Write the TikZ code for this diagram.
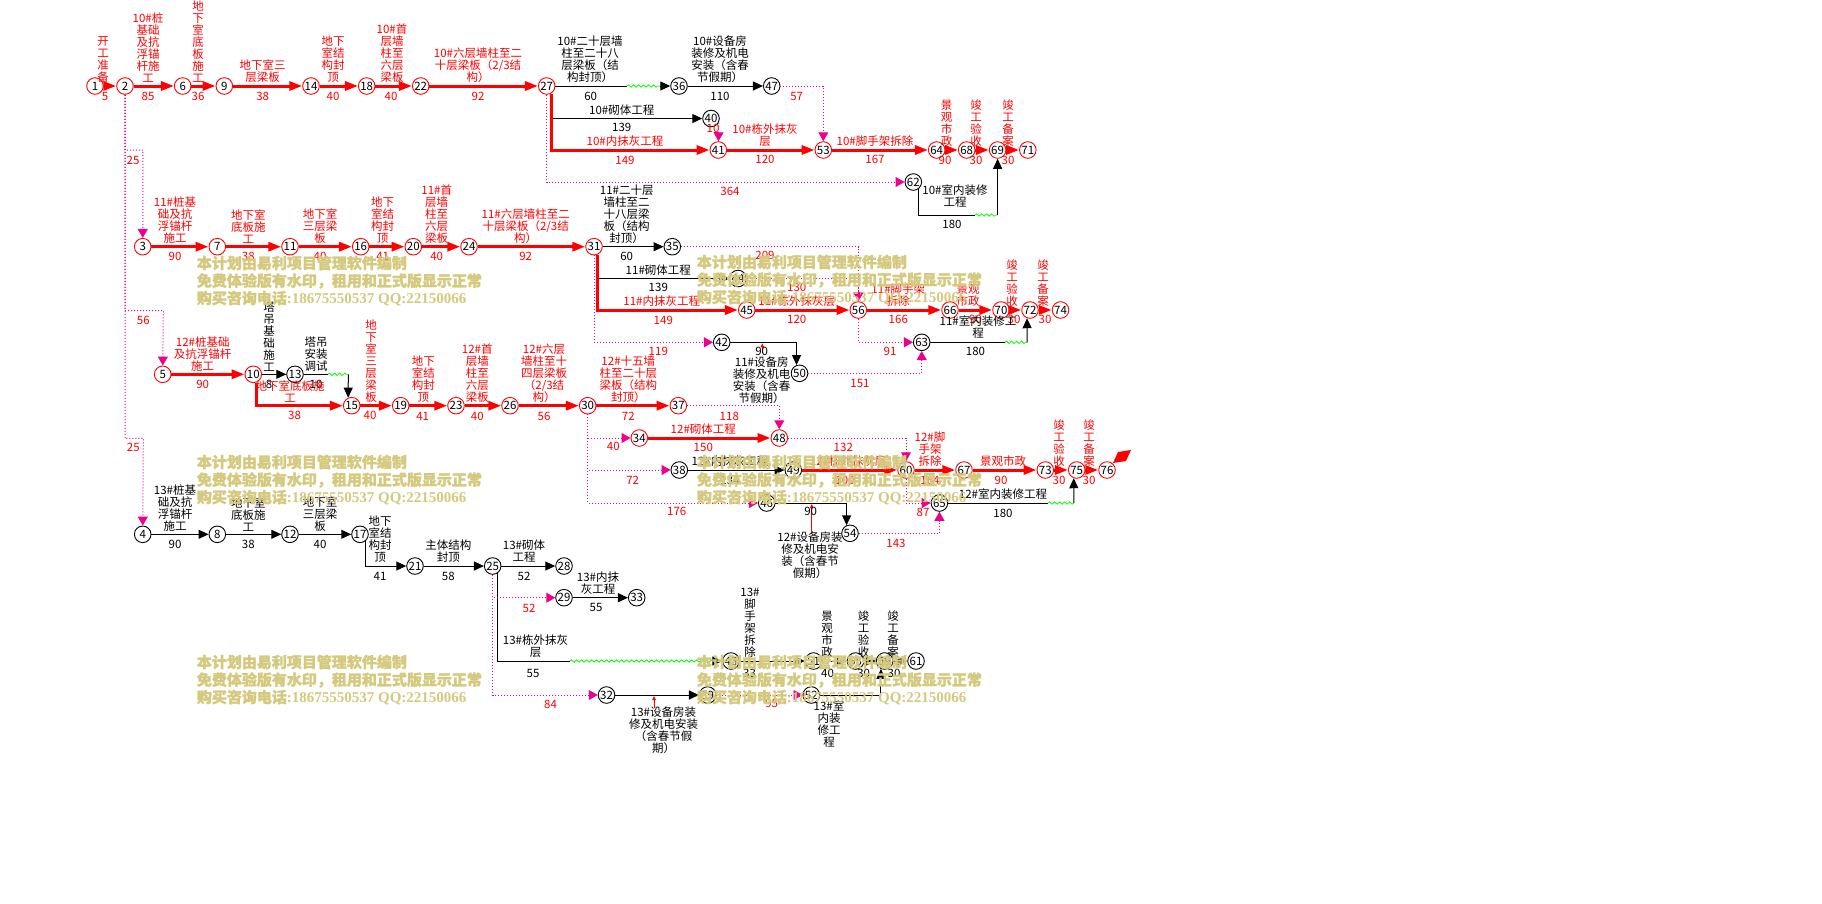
\documentclass[tikz,border=0pt]{standalone}
\usepackage{fontspec}
\setmainfont{Noto Sans CJK SC}
\newfontfamily\mywmfam{Noto Sans CJK SC}[FakeBold=1.3]
\newfontfamily\mywmlat{Liberation Serif}
\usetikzlibrary{arrows.meta,decorations.pathmorphing}
\definecolor{wmc}{RGB}{212,201,125}
\newcommand\mylbf{\fontsize{11.5}{12}\selectfont}
\newcommand\mywmfont{\mywmfam\bfseries\fontsize{15}{18}\selectfont}
\newcommand\wmblock[3]{%
 \node[wm] (#1a) at (#2,#3) {本计划由易利项目管理软件编制};
 \node[wm] (#1b) at (#2,#3+18) {免费体验版有水印，租用和正式版显示正常};
 \node[wm] (#1c) at (#2,#3+35.5) {购买咨询电话{\mywmlat\bfseries :18675550537 QQ:22150066}};}
\begin{document}
\begin{tikzpicture}[x=1pt,y=-1pt,
 nd/.style={circle,draw=black,fill=white,line width=0.9pt,minimum size=16.6pt,inner sep=0pt,font=\mylbf},
 ndr/.style={nd,draw=red},
 crit/.style={draw=red,line width=3pt,-{Triangle[length=13pt,width=9pt]}},
 act/.style={draw=black,line width=1pt,-{Triangle[length=10pt,width=9pt]}},
 ln/.style={draw=black,line width=1pt},
 wave/.style={draw=green,line width=0.8pt,decorate,decoration={snake,segment length=5pt,amplitude=1.2pt}},
 dep/.style={draw=magenta,line width=1pt,dash pattern=on 1pt off 2pt,-{Triangle[length=9pt,width=10pt]}},
 lr/.style={font=\mylbf,align=center,inner sep=0pt,text=red,anchor=south},
 lb/.style={lr,text=black},
 dr/.style={font=\mylbf,inner sep=0pt,text=red},
 db/.style={dr,text=black},
 rtick/.style={draw=red,line width=0.8pt,-{Triangle[length=4pt,width=3.5pt]}},
 wm/.style={font=\mywmfont,text=wmc,anchor=west,inner sep=0pt}
]
\fill[white] (0,0) rectangle (1822,903);
\useasboundingbox (0,0) rectangle (1822,903);

% ---------- nodes row 10
\node[ndr] (n1) at (95,86) {1};
\node[ndr] (n2) at (125,86) {2};
\node[ndr] (n6) at (182.7,86) {6};
\node[ndr] (n9) at (224.3,86) {9};
\node[ndr] (n14) at (311,86) {14};
\node[ndr] (n18) at (366.7,86) {18};
\node[ndr] (n22) at (420.7,86) {22};
\node[ndr] (n27) at (546.7,86) {27};
\node[nd] (n36) at (679,86) {36};
\node[nd] (n47) at (771.7,86) {47};
\node[nd] (n40) at (711,118.5) {40};
\node[ndr] (n41) at (718.3,150) {41};
\node[ndr] (n53) at (823.3,150) {53};
\node[ndr] (n64) at (936.7,150) {64};
\node[ndr] (n68) at (966.7,150) {68};
\node[ndr] (n69) at (997.6,150) {69};
\node[ndr] (n71) at (1027.8,150) {71};
\node[nd] (n62) at (913.3,182) {62};
% ---------- row 11
\node[ndr] (n3) at (142.7,246.7) {3};
\node[ndr] (n7) at (217.3,246.7) {7};
\node[ndr] (n11) at (290,246.7) {11};
\node[ndr] (n16) at (360.7,246.7) {16};
\node[ndr] (n20) at (413.3,246.7) {20};
\node[ndr] (n24) at (469,246.7) {24};
\node[ndr] (n31) at (594,246.7) {31};
\node[nd] (n35) at (672.3,246.7) {35};
\node[nd] (n44) at (738,278.5) {44};
\node[ndr] (n45) at (746.7,310) {45};
\node[ndr] (n56) at (858.3,310) {56};
\node[ndr] (n66) at (950,310) {66};
\node[ndr] (n70) at (1001,310) {70};
\node[ndr] (n72) at (1030,310) {72};
\node[ndr] (n74) at (1060.5,310) {74};
\node[nd] (n42) at (721.7,342.3) {42};
\node[nd] (n63) at (921.7,342.3) {63};
\node[nd] (n50) at (799.5,373.3) {50};
% ---------- row 12
\node[ndr] (n5) at (162.7,374.3) {5};
\node[ndr] (n10) at (253.3,374.3) {10};
\node[nd] (n13) at (295,374.3) {13};
\node[ndr] (n15) at (351.7,405.7) {15};
\node[ndr] (n19) at (400.7,405.7) {19};
\node[ndr] (n23) at (456,405.7) {23};
\node[ndr] (n26) at (510,405.7) {26};
\node[ndr] (n30) at (587.7,405.7) {30};
\node[ndr] (n37) at (678.3,405.7) {37};
\node[ndr] (n34) at (639.3,438) {34};
\node[ndr] (n48) at (779.3,438) {48};
\node[nd] (n38) at (679.3,470) {38};
\node[nd] (n49) at (793.3,470) {49};
\node[ndr] (n60) at (906,470) {60};
\node[ndr] (n67) at (964,470) {67};
\node[ndr] (n73) at (1045.3,470) {73};
\node[ndr] (n75) at (1076.7,470) {75};
\node[ndr] (n76) at (1107,470) {76};
\node[nd] (n46) at (766.7,503) {46};
\node[nd] (n65) at (939.4,503) {65};
\node[nd] (n54) at (850,533.3) {54};
% ---------- row 13
\node[nd] (n4) at (142.7,534.3) {4};
\node[nd] (n8) at (217.3,534.3) {8};
\node[nd] (n12) at (290,534.3) {12};
\node[nd] (n17) at (360,534.3) {17};
\node[nd] (n21) at (415,566) {21};
\node[nd] (n25) at (492.7,566) {25};
\node[nd] (n28) at (564,566) {28};
\node[nd] (n29) at (564,597.7) {29};
\node[nd] (n33) at (636.7,597.7) {33};
\node[nd] (n43) at (731,661) {43};
\node[nd] (n51) at (813.6,661) {51};
\node[nd] (n55) at (855.5,661) {55};
\node[nd] (n59) at (884.6,661) {59};
\node[nd] (n61) at (916,661) {61};
\node[nd] (n32) at (606.5,695) {32};
\node[nd] (n39) at (707.7,695) {39};
\node[nd] (n52) at (811.3,695) {52};

% ---------- edges row 10
\draw[crit] (n1) -- (n2);
\draw[crit] (n2) -- (n6);
\draw[crit] (n6) -- (n9);
\draw[crit] (n9) -- (n14);
\draw[crit] (n14) -- (n18);
\draw[crit] (n18) -- (n22);
\draw[crit] (n22) -- (n27);
\draw[crit] (n27.-60) |- (n41);
\draw[crit] (n41) -- (n53);
\draw[crit] (n53) -- (n64);
\draw[crit] (n64) -- (n68);
\draw[crit] (n68) -- (n69);
\draw[crit] (n69) -- (n71);
\coordinate (w27a) at (627,86);
\coordinate (w27b) at (660,86);
\draw[ln] (n27) -- (w27a);
\draw[wave] (w27a) -- (w27b);
\draw[act] (w27b) -- (n36);
\draw[act] (n36) -- (n47);
\coordinate (c27a) at (553,118.5);
\draw[act] (c27a) -- (n40);
\coordinate (w62a) at (975,215);
\coordinate (w62b) at (997.6,215);
\draw[ln] (n62.-55) |- (w62a);
\draw[wave] (w62a) -- (w62b);
\draw[act] (w62b) -- (n69);
\draw[dep] (n47) -| (n53);
\draw[dep] (n40.-28) -- (n41);
\draw[dep] (n27) |- (n62);
\draw[dep] (n2) |- (143,150) -- (n3);
\draw[dep] (n2) |- (163.3,310.7) -- (n5);
\draw[dep] (n2) |- (143.3,438.3) -- (n4);

% ---------- edges row 11
\draw[crit] (n3) -- (n7);
\draw[crit] (n7) -- (n11);
\draw[crit] (n11) -- (n16);
\draw[crit] (n16) -- (n20);
\draw[crit] (n20) -- (n24);
\draw[crit] (n24) -- (n31);
\draw[crit] (n31.-65) |- (n45);
\draw[crit] (n45) -- (n56);
\draw[crit] (n56) -- (n66);
\draw[crit] (n66) -- (n70);
\draw[crit] (n70) -- (n72);
\draw[crit] (n72) -- (n74);
\draw[act] (n31) -- (n35);
\coordinate (c31a) at (599,278.5);
\draw[act] (c31a) -- (n44);
\draw[act] (n42) -| (n50.110);
\coordinate (w63a) at (1005,342.3);
\coordinate (w63b) at (1027.2,342.3);
\draw[ln] (n63) -- (w63a);
\draw[wave] (w63a) -- (w63b);
\draw[act] (w63b) -- (n72.-110);
\draw[dep] (n35) -| (n56);
\draw[dep] (n44) -| (n56);
\draw[dep] (n31) |- (n42);
\draw[dep] (n56) |- (n63);
\draw[dep] (n50) -| (n63);
\draw[rtick] (762.3,352.5) -- (762.3,343.3);

% ---------- edges row 12
\draw[crit] (n5) -- (n10);
\draw[crit] (n10.-70) |- (n15);
\draw[crit] (n15) -- (n19);
\draw[crit] (n19) -- (n23);
\draw[crit] (n23) -- (n26);
\draw[crit] (n26) -- (n30);
\draw[crit] (n30) -- (n37);
\draw[crit] (n34) -- (n48);
\draw[crit] (n49) -- (n60);
\draw[crit] (n60) -- (n67);
\draw[crit] (n67) -- (n73);
\draw[crit] (n73) -- (n75);
\draw[crit] (n75) -- (n76);
\draw[act] (n10) -- (n13);
\coordinate (w13a) at (328,374.3);
\coordinate (w13b) at (348.3,374.3);
\draw[ln] (n13) -- (w13a);
\draw[wave] (w13a) -- (w13b);
\draw[act] (w13b) -- (n15.114);
\draw[act] (n38) -- (n49);
\draw[act] (n46) -| (n54.113);
\coordinate (w65a) at (1048,503);
\coordinate (w65b) at (1073.9,503);
\draw[ln] (n65) -- (w65a);
\draw[wave] (w65a) -- (w65b);
\draw[act] (w65b) -- (n75.-110);
\draw[dep] (n30) |- (n34);
\draw[dep] (n30) |- (n38);
\draw[dep] (n30) |- (n46);
\draw[dep] (n37) -| (n48);
\draw[dep] (n48) -| (n60);
\draw[dep] (n60) |- (n65);
\draw[dep] (n54) -| (n65);
\draw[rtick] (811.7,531.5) -- (811.7,504);
\fill[red] (1113,463) -- (1118,452) -- (1131,450) -- (1126,461) -- cycle;

% ---------- edges row 13
\draw[act] (n4) -- (n8);
\draw[act] (n8) -- (n12);
\draw[act] (n12) -- (n17);
\draw[act] (n17.-55) |- (n21);
\draw[act] (n21) -- (n25);
\draw[act] (n25) -- (n28);
\draw[act] (n29) -- (n33);
\coordinate (w25a) at (570,661);
\coordinate (w25b) at (716,661);
\draw[ln] (n25.-56) |- (w25a);
\draw[wave] (w25a) -- (w25b);
\draw[act] (w25b) -- (n43);
\draw[act] (n43) -- (n51);
\draw[act] (n51) -- (n55);
\draw[act] (n55) -- (n59);
\draw[act] (n59) -- (n61);
\draw[act] (n32) -- (n39);
\draw[act] (n52) -| (n59.-115);
\draw[dep] (n25) |- (n29);
\draw[dep] (n25) |- (n32);
\draw[dep] (n39) -- (n52);
\draw[rtick] (654,708) -- (654,696);

% ---------- labels row 10
\node[lr] (l1) at (103,83) {开\\工\\准\\备};
\node[dr] (d1) at (105,96.5) {5};
\node[lr] (l2) at (148,83) {10\#桩\\基础\\及抗\\浮锚\\杆施\\工};
\node[dr] (d2) at (148,96.5) {85};
\node[lr] (l3) at (198,83) {地\\下\\室\\底\\板\\施\\工};
\node[dr] (d3) at (198,96.5) {36};
\node[lr] (l4) at (262.7,83) {地下室三\\层梁板};
\node[dr] (d4) at (262.7,96.5) {38};
\node[lr] (l5) at (333,83) {地下\\室结\\构封\\顶};
\node[dr] (d5) at (333,96.5) {40};
\node[lr] (l6) at (392,83) {10\#首\\层墙\\柱至\\六层\\梁板};
\node[dr] (d6) at (391,96.5) {40};
\node[lr] (l7) at (478,83) {10\#六层墙柱至二\\十层梁板（2/3结\\构）};
\node[dr] (d7) at (478,96.5) {92};
\node[lb] (l8) at (590,83) {10\#二十层墙\\柱至二十八\\层梁板（结\\构封顶）};
\node[db] (d8) at (590.7,96.5) {60};
\node[lb] (l9) at (720,83) {10\#设备房\\装修及机电\\安装（含春\\节假期）};
\node[db] (d9) at (720,96.5) {110};
\node[lb] (l10) at (621.7,115.5) {10\#砌体工程};
\node[db] (d10) at (621.7,127.7) {139};
\node[lr] (l11) at (625,147) {10\#内抹灰工程};
\node[dr] (d11) at (625,160) {149};
\node[lr] (l12) at (765,147) {10\#栋外抹灰\\层};
\node[dr] (d12) at (765,159.5) {120};
\node[lr] (l13) at (875,147) {10\#脚手架拆除};
\node[dr] (d13) at (875,159.5) {167};
\node[lr] (l14) at (946.7,147) {景\\观\\市\\政};
\node[dr] (d14) at (945,160) {90};
\node[lr] (l15) at (976,147) {竣\\工\\验\\收};
\node[dr] (d15) at (976,160) {30};
\node[lr] (l16) at (1008,147) {竣\\工\\备\\案};
\node[dr] (d16) at (1008,160) {30};
\node[lb] (l17) at (955,208) {10\#室内装修\\工程};
\node[db] (d17) at (952,224) {180};
\node[dr] (t1) at (796.7,96) {57};
\node[dr] (t2) at (713,128) {10};
\node[dr] (t3) at (730,191.7) {364};
\node[dr] (t4) at (133,160) {25};
\node[dr] (t5) at (143.3,320) {56};
\node[dr] (t6) at (133.3,447.7) {25};

% ---------- labels row 11
\node[lr] (l18) at (175,243.7) {11\#桩基\\础及抗\\浮锚杆\\施工};
\node[dr] (d18) at (175,256.5) {90};
\node[lr] (l19) at (248.3,243.7) {地下室\\底板施\\工};
\node[dr] (d19) at (248.3,256.5) {38};
\node[lr] (l20) at (320,243.7) {地下室\\三层梁\\板};
\node[dr] (d20) at (320,256.5) {40};
\node[lr] (l21) at (382.7,243.7) {地下\\室结\\构封\\顶};
\node[dr] (d21) at (382.7,256.5) {41};
\node[lr] (l22) at (436.7,243.7) {11\#首\\层墙\\柱至\\六层\\梁板};
\node[dr] (d22) at (436.7,256.5) {40};
\node[lr] (l23) at (525.7,243.7) {11\#六层墙柱至二\\十层梁板（2/3结\\构）};
\node[dr] (d23) at (525.7,256.5) {92};
\node[lb] (l24) at (626.7,243.7) {11\#二十层\\墙柱至二\\十八层梁\\板（结构\\封顶）};
\node[db] (d24) at (626.7,256.5) {60};
\node[lb] (l25) at (658.3,275.5) {11\#砌体工程};
\node[db] (d25) at (658.3,287.7) {139};
\node[lr] (l26) at (661.7,307) {11\#内抹灰工程};
\node[dr] (d26) at (663.3,320) {149};
\node[lr] (l27) at (796.7,307) {11\#栋外抹灰层};
\node[dr] (d27) at (796.7,319.5) {120};
\node[lr] (l28) at (898.3,307) {11\#脚手架\\拆除};
\node[dr] (d28) at (898.3,319.5) {166};
\node[lr] (l29) at (968,307) {景观\\市政};
\node[dr] (d29) at (975.5,319.5) {90};
\node[lr] (l30) at (1012,307) {竣\\工\\验\\收};
\node[dr] (d30) at (1014,319.5) {30};
\node[lr] (l31) at (1043,307) {竣\\工\\备\\案};
\node[dr] (d31) at (1045,319.5) {30};
\node[lb] (l32) at (978,339) {11\#室内装修工\\程};
\node[db] (d32) at (975.5,351.5) {180};
\node[lb,anchor=center] (l33) at (761.7,379.7) {11\#设备房\\装修及机电\\安装（含春\\节假期）};
\node[db] (d33) at (761.7,351.7) {90};
\node[dr] (t7) at (765,255) {209};
\node[dr] (t8) at (796.7,287.3) {130};
\node[dr] (t9) at (658.3,351.7) {119};
\node[dr] (t10) at (890,351.7) {91};
\node[dr] (t11) at (860,383.3) {151};

% ---------- labels row 12
\node[lr] (l34) at (202.7,371.3) {12\#桩基础\\及抗浮锚杆\\施工};
\node[dr] (d34) at (202.7,384) {90};
\node[lb] (l35) at (269,371.3) {塔\\吊\\基\\础\\施\\工};
\node[db] (d35) at (269,384) {8};
\node[lb] (l36) at (316,371.3) {塔吊\\安装\\调试};
\node[db] (d36) at (316,384) {10};
\node[lr,anchor=center] (l37) at (290,391.8) {地下室底板施\\工};
\node[dr] (d37) at (294.5,415.5) {38};
\node[lr] (l38) at (371,403) {地\\下\\室\\三\\层\\梁\\板};
\node[dr] (d38) at (370,415.5) {40};
\node[lr] (l39) at (423.3,403) {地下\\室结\\构封\\顶};
\node[dr] (d39) at (422.7,416) {41};
\node[lr] (l40) at (477.3,403) {12\#首\\层墙\\柱至\\六层\\梁板};
\node[dr] (d40) at (477.3,416) {40};
\node[lr] (l41) at (544,403) {12\#六层\\墙柱至十\\四层梁板\\（2/3结\\构）};
\node[dr] (d41) at (544,416) {56};
\node[lr] (l42) at (628.3,403) {12\#十五墙\\柱至二十层\\梁板（结构\\封顶）};
\node[dr] (d42) at (628.3,416) {72};
\node[lr] (l43) at (703.3,435) {12\#砌体工程};
\node[dr] (d43) at (703.3,447.5) {150};
\node[lb] (l44) at (730,467) {12\#内抹灰工程};
\node[db] (d44) at (730,480.5) {134};
\node[lr] (l45) at (848.3,467) {12\#栋外抹灰层};
\node[dr] (d45) at (845,480.5) {100};
\node[lr] (l46) at (930,467) {12\#脚\\手架\\拆除};
\node[dr] (d46) at (930,480.5) {164};
\node[lr] (l47) at (1003,467) {景观市政};
\node[dr] (d47) at (1001,480) {90};
\node[lr] (l48) at (1059,467) {竣\\工\\验\\收};
\node[dr] (d48) at (1059,480) {30};
\node[lr] (l49) at (1089,467) {竣\\工\\备\\案};
\node[dr] (d49) at (1089,480) {30};
\node[lb] (l50) at (1003,500) {12\#室内装修工程};
\node[db] (d50) at (1003,513) {180};
\node[lb,anchor=center] (l51) at (810,555) {12\#设备房装\\修及机电安\\装（含春节\\假期）};
\node[db] (d51) at (810.7,511.7) {90};
\node[dr] (t12) at (729.3,416) {118};
\node[dr] (t13) at (613.3,446.7) {40};
\node[dr] (t14) at (632.7,480) {72};
\node[dr] (t15) at (843.3,447.3) {132};
\node[dr] (t16) at (676.7,511.7) {176};
\node[dr] (t17) at (923,512) {87};
\node[dr] (t18) at (896,543.6) {143};

% ---------- labels row 13
\node[lb] (l52) at (175,531.3) {13\#桩基\\础及抗\\浮锚杆\\施工};
\node[db] (d52) at (175,544.3) {90};
\node[lb] (l53) at (248.3,531.3) {地下室\\底板施\\工};
\node[db] (d53) at (248.3,544.3) {38};
\node[lb] (l54) at (320,531.3) {地下室\\三层梁\\板};
\node[db] (d54) at (320,544.3) {40};
\node[lb] (l55) at (380,563) {地下\\室结\\构封\\顶};
\node[db] (d55) at (380,576) {41};
\node[lb] (l56) at (448.3,563) {主体结构\\封顶};
\node[db] (d56) at (448.3,576) {58};
\node[lb] (l57) at (524,563) {13\#砌体\\工程};
\node[db] (d57) at (524,576) {52};
\node[lb] (l58) at (598,595) {13\#内抹\\灰工程};
\node[db] (d58) at (596,607.7) {55};
\node[lb] (l59) at (535.5,658) {13\#栋外抹灰\\层};
\node[db] (d59) at (533,673) {55};
\node[lb] (l60) at (750,658) {13\#\\脚\\手\\架\\拆\\除};
\node[db] (d60) at (749.6,673) {33};
\node[lb] (l61) at (827,658) {景\\观\\市\\政};
\node[db] (d61) at (827.6,673) {40};
\node[lb] (l62) at (863.5,658) {竣\\工\\验\\收};
\node[db] (d62) at (863.7,673) {30};
\node[lb] (l63) at (893,658) {竣\\工\\备\\案};
\node[db] (d63) at (894,673) {30};
\node[lb,anchor=center] (l64) at (663.5,730) {13\#设备房装\\修及机电安装\\（含春节假\\期）};
\node[lb,anchor=center] (l65) at (829,724.5) {13\#室\\内装\\修工\\程};
\node[dr] (t19) at (529,608.3) {52};
\node[dr] (t20) at (550.6,704) {84};
\node[dr] (t21) at (771.7,703) {95};

% ---------- watermark
\wmblock{wA}{196.7}{263}
\wmblock{wB}{696.7}{262}
\wmblock{wC}{196.7}{462}
\wmblock{wD}{696.7}{462}
\wmblock{wE}{196.7}{662}
\wmblock{wF}{696.7}{662}
\end{tikzpicture}
\end{document}
